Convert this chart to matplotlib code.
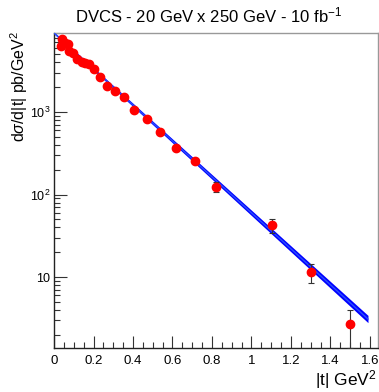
import numpy as np
import matplotlib
matplotlib.use("Agg")
import matplotlib.pyplot as plt
from matplotlib.ticker import FixedLocator, MultipleLocator, FuncFormatter, NullFormatter

plt.rcParams['font.family'] = ['Liberation Sans', 'DejaVu Sans']
plt.rcParams['mathtext.fontset'] = 'custom'
plt.rcParams['mathtext.rm'] = 'Liberation Sans'
plt.rcParams['mathtext.it'] = 'Liberation Sans:italic'

# measured points: |t| (GeV^2), dsigma/d|t| (pb/GeV^2), error
t_vals = [0.034, 0.039, 0.058, 0.072, 0.077, 0.098, 0.118, 0.140, 0.157, 0.179,
          0.203, 0.233, 0.270, 0.309, 0.356, 0.407, 0.469, 0.538, 0.618, 0.712,
          0.819, 1.102, 1.300, 1.499]
xsec = [6310, 7600, 6950, 6670, 5530, 5150, 4360, 4080, 3960, 3820,
        3290, 2680, 2070, 1800, 1510, 1060, 817, 577, 366, 255,
        124, 42.7, 11.4, 2.67]
xsec_err = [120, 140, 130, 120, 110, 100, 90, 85, 80, 80,
            70, 60, 50, 45, 40, 30, 25, 20, 15, 13,
            16, 8.5, 3.0, 1.3]

# exponential fit, drawn as straight band on log axis (end points)
fit_t = [0.0, 1.59]
fit_mid = [9100, 3.10]
fit_lo = [8850, 2.80]
fit_hi = [9350, 3.43]

fig = plt.figure(figsize=(3.79, 3.92), dpi=100)
ax = fig.add_axes([0.1425, 0.1122, 0.855, 0.8036])

ax.fill_between(fit_t, fit_lo, fit_hi, color='#0000ff', lw=0, zorder=2)
ax.plot(fit_t, fit_mid, color='#2a4dff', lw=1.0, zorder=3)
ax.errorbar(t_vals, xsec, yerr=xsec_err, fmt='o', color='#ff0000', ms=6,
            mec='#ff0000', ecolor='#333333', elinewidth=0.8, capsize=2,
            capthick=0.8, zorder=4, clip_on=True)

ax.set_yscale('log')
ax.set_xlim(0, 1.641)
ax.set_ylim(1.38, 9080)

ax.xaxis.set_major_locator(MultipleLocator(0.2))
ax.xaxis.set_minor_locator(MultipleLocator(0.05))
ax.xaxis.set_major_formatter(FuncFormatter(lambda v, p: '%g' % round(v, 1)))

ax.yaxis.set_major_locator(FixedLocator([10, 100, 1000]))
ylabels = {10: '10', 100: r'$\mathregular{10^{2}}$', 1000: r'$\mathregular{10^{3}}$'}
ax.yaxis.set_major_formatter(FuncFormatter(lambda v, p: ylabels.get(int(round(v)), '')))
minor = [m * 10 ** d for d in range(0, 4) for m in range(2, 10)]
ax.yaxis.set_minor_locator(FixedLocator(minor))
ax.yaxis.set_minor_formatter(NullFormatter())

ax.tick_params(which='both', direction='in', top=False, right=False, labelsize=9.5,
               width=0.8, color='#333333')
ax.tick_params(which='major', length=9)
ax.tick_params(which='minor', length=4.5)
ax.tick_params(axis='x', pad=5)
ax.tick_params(axis='y', pad=2.5, labelsize=9)

for s in ['left', 'bottom']:
    ax.spines[s].set_color('#222222')
    ax.spines[s].set_linewidth(1.0)
for s in ['top', 'right']:
    ax.spines[s].set_color('#999999')
    ax.spines[s].set_linewidth(1.0)

fig.text(0.551, 1 - 15 / 392, r'DVCS - 20 GeV x 250 GeV - 10 fb$^{-1}$',
         ha='center', va='center', fontsize=12)
fig.text(1 - 2 / 379, 1 - 380 / 392, r'|t| GeV$^{2}$', ha='right', va='center', fontsize=12.5)
fig.text(19 / 379, 1 - 31 / 392, r'd$\sigma$/d|t| pb/GeV$^{2}$', ha='center', va='top',
         rotation=90, fontsize=11.5)

fig.savefig('out.png', dpi=100)
